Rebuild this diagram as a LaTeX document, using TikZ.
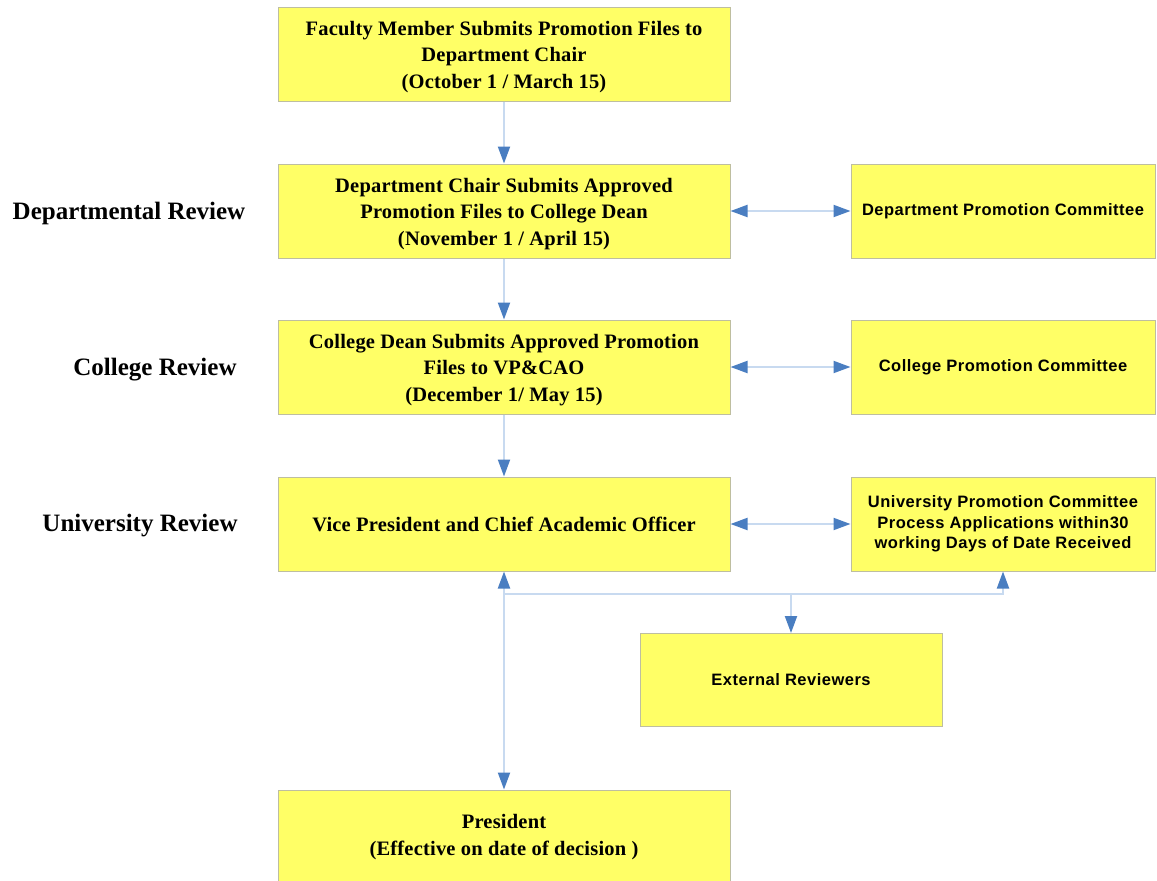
\documentclass[tikz,border=0pt]{standalone}
\usepackage{fontspec}
\setmainfont{Liberation Serif}
\newfontfamily\arialf{Liberation Sans}
\usetikzlibrary{arrows.meta}
\definecolor{boxfill}{RGB}{255,255,102}
\definecolor{boxline}{RGB}{190,190,160}
\definecolor{lineblue}{RGB}{200,218,240}
\definecolor{tipblue}{RGB}{74,126,193}
\begin{document}
\begin{tikzpicture}[x=1pt,y=-1pt,
  mainbox/.style={draw=boxline, line width=1pt, fill=boxfill, minimum width=452pt, minimum height=94pt, align=center, font=\bfseries\fontsize{20.5}{26.5}\selectfont\addfontfeatures{LetterSpace=1}, inner sep=0pt},
  sidebox/.style={draw=boxline, line width=1pt, fill=boxfill, minimum width=304pt, minimum height=94pt, align=center, font=\arialf\bfseries\fontsize{16.5}{20.5}\selectfont\addfontfeatures{LetterSpace=3}, inner sep=0pt},
  lbl/.style={font=\bfseries\fontsize{25}{28}\selectfont, inner sep=0pt},
  conn/.style={draw=lineblue, line width=2pt},
  tip/.style={-{Triangle[length=17pt,width=12pt,color=tipblue]}},
  dtip/.style={{Triangle[length=17pt,width=12pt,color=tipblue]}-{Triangle[length=17pt,width=12pt,color=tipblue]}}
]
\useasboundingbox (0,0) rectangle (1157,881);
\clip (0,0) rectangle (1157,881);
\fill[white] (0,0) rectangle (1157,881);

\node[mainbox] (b1) at (504,54) {\rule{0pt}{20pt}Faculty Member Submits Promotion Files to\\Department Chair\\(October 1 / March 15)};
\node[mainbox] (b2) at (504,211) {\rule{0pt}{20pt}Department Chair Submits Approved\\Promotion Files to College Dean\\(November 1 / April 15)};
\node[mainbox] (b3) at (504,367) {\rule{0pt}{20pt}College Dean Submits Approved Promotion\\Files to VP\&CAO\\(December 1/ May 15)};
\node[mainbox] (b4) at (504,524) {Vice President and Chief Academic Officer};
\node[mainbox] (b5) at (504,837) {President\\(Effective on date of decision )};

\node[sidebox] (s1) at (1003,211) {Department Promotion Committee};
\node[sidebox] (s2) at (1003,367) {College Promotion Committee};
\node[sidebox] (s3) at (1003,524) {University Promotion Committee\\Process Applications within30\\working Days of Date Received};
\node[sidebox, minimum width=302pt, minimum height=93pt] (ext) at (791,680) {External Reviewers};

\node[lbl] (l1) at (129,213) {Departmental Review};
\node[lbl] (l2) at (155,370) {College Review};
\node[lbl] (l3) at (140,526) {University Review};

\draw[conn,tip] (b1.south) -- (b2.north);
\draw[conn,tip] (b2.south) -- (b3.north);
\draw[conn,tip] (b3.south) -- (b4.north);
\draw[conn,dtip] (b2.east) -- (s1.west);
\draw[conn,dtip] (b3.east) -- (s2.west);
\draw[conn,dtip] (b4.east) -- (s3.west);
\draw[conn,dtip] (b4.south) -- (b5.north);
\coordinate (hj) at (504,594);
\coordinate (hm) at (791,594);
\draw[conn,tip] (hj) -| (s3.south);
\draw[conn,tip] (hm) -- (ext.north);
\end{tikzpicture}
\end{document}
